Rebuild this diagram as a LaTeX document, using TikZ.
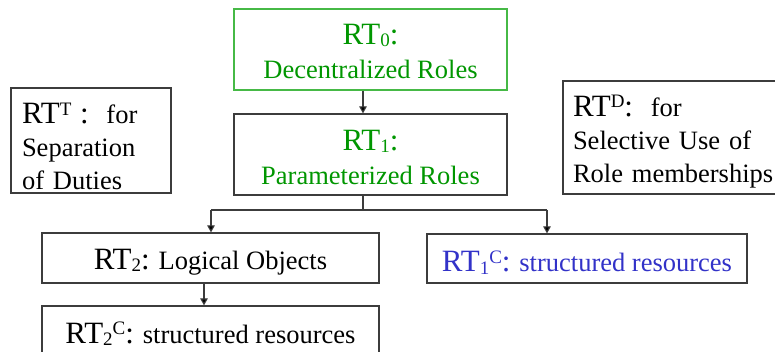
\documentclass[tikz,border=0pt]{standalone}
\usepackage{fontspec}
\setmainfont{Liberation Serif}
\usetikzlibrary{arrows.meta}
\definecolor{linegray}{RGB}{60,60,60}
\definecolor{txtgreen}{RGB}{0,150,0}
\definecolor{bordgreen}{RGB}{70,185,70}
\definecolor{txtblue}{RGB}{50,50,200}
\newcommand\bigsz{\fontsize{31}{34}\selectfont}
\newcommand\lo[1]{\raisebox{-2.5pt}{\fontsize{19}{19}\selectfont #1}}
\newcommand\hi[1]{\raisebox{8.5pt}{\fontsize{19}{19}\selectfont #1}}
\newcommand\vstrut[1]{\rule{0pt}{#1pt}}
\tikzset{
  box/.style={draw=linegray, line width=1.2pt, inner sep=0pt, align=center,
    font=\fontsize{26.5}{34}\selectfont},
  lbox/.style={draw=linegray, line width=1.2pt, inner ysep=0pt, align=left,
    font=\fontsize{26.5}{33}\selectfont},
  arr/.style={draw=linegray, line width=1.1pt, -{Triangle[width=7.5pt,length=7pt,fill=black]}},
  conn/.style={draw=linegray, line width=1.1pt}
}
\begin{document}
\begin{tikzpicture}[x=1pt,y=-1pt]
\useasboundingbox (0,0) rectangle (775,352);
\clip (0,0) rectangle (775,352);
\node[box, draw=bordgreen, text=txtgreen, minimum width=273pt, minimum height=81pt]
  (RT0) at (370.5,49.5) {\vstrut{23.5}{\bigsz RT\lo{0}:}\\Decentralized Roles};
\node[box, text=txtgreen, minimum width=273pt, minimum height=81pt]
  (RT1) at (370.5,154.5) {\vstrut{26}{\bigsz RT\lo{1}:}\\Parameterized Roles};
\node[lbox, inner xsep=11pt, text width=138pt, minimum height=105pt]
  (RTT) at (91,140.5) {\vstrut{32.5}{\bigsz RT\hi{T} :}\ \ for\\Separation\\of Duties};
\node[lbox, inner xsep=10pt, text width=206pt, minimum height=113pt]
  (RTD) at (676,137.5) {\vstrut{29.5}{\bigsz RT\hi{D}:}\ \ for\\Selective Use of\\Role memberships};
\node[box, text=txtblue, minimum width=320pt, minimum height=49pt]
  (RT1C) at (587,258.5) {\vstrut{28.5}{\bigsz RT\lo{1}\hi{C}:} structured resources};
\node[box, minimum width=337pt, minimum height=50pt]
  (RT2) at (210.5,258) {\vstrut{28.5}{\bigsz RT\lo{2}:} Logical Objects};
\node[box, minimum width=337pt, minimum height=48pt]
  (RT2C) at (210.5,330) {\vstrut{28.5}{\bigsz RT\lo{2}\hi{C}:} structured resources};
\coordinate (xa) at (363,0);
\coordinate (split) at (363,210);
\coordinate (lb) at (211,210);
\coordinate (rb) at (547,210);
\coordinate (xb) at (204,0);
\draw[arr] (RT0.south -| xa) -- (RT1.north -| xa);
\draw[conn] (RT1.south -| split) -- (split);
\draw[conn] (lb) -- (rb);
\draw[arr] (lb) -- (RT2.north -| lb);
\draw[arr] (rb) -- (RT1C.north -| rb);
\draw[arr] (RT2.south -| xb) -- (RT2C.north -| xb);
\end{tikzpicture}
\end{document}
